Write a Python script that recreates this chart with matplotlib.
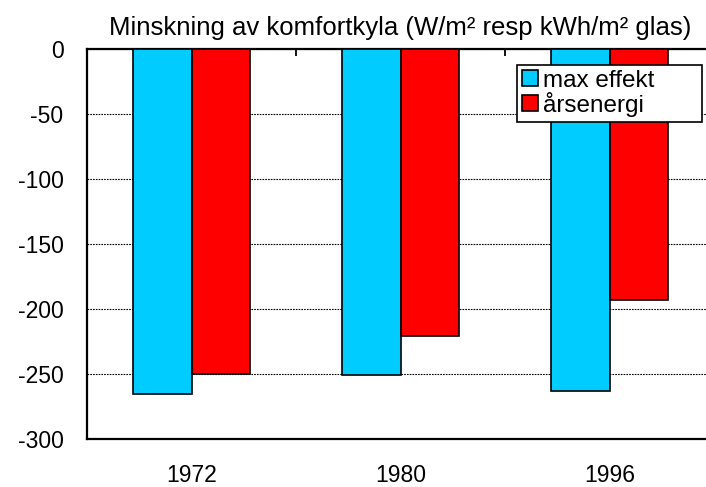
import numpy as np
import matplotlib.pyplot as plt

plt.rcParams['font.family'] = ['Liberation Sans', 'DejaVu Sans']
plt.rcParams['axes.unicode_minus'] = False

years = ['1972', '1980', '1996']
max_effekt = [-265, -251, -263]
arsenergi = [-250, -221, -193]

fig = plt.figure(figsize=(7.06, 4.87), dpi=100)
# the axes runs slightly past the right edge, as in the original
ax = fig.add_axes([87 / 706, 1 - 439 / 487, 627 / 706, 390 / 487])

x = np.arange(len(years))
w = 0.28
ax.bar(x, max_effekt, width=-w, align='edge', color='#00CCFF',
       edgecolor='black', linewidth=1.2, label='max effekt', zorder=3)
ax.bar(x, arsenergi, width=w, align='edge', color='#FF0000',
       edgecolor='black', linewidth=1.2, label='årsenergi', zorder=3)

ax.set_xlim(-0.5, 2.5)
ax.set_ylim(-300, 0)
ax.set_yticks(np.arange(-300, 1, 50))
ax.yaxis.grid(True, color='black', linestyle=(0, (1.5, 1)), linewidth=0.8, zorder=1)

ax.set_xticks(x)
ax.set_xticklabels(years, fontsize=16.5)
ax.set_xticks([0.5, 1.5], minor=True)
ax.tick_params(axis='x', which='major', length=0, pad=18)
ax.tick_params(axis='x', which='minor', top=True, bottom=False,
               direction='in', length=5, width=1.3)
ax.tick_params(axis='y', labelsize=16.5, length=0, pad=17)

for s in ax.spines.values():
    s.set_linewidth(1.6)

ax.set_title('Minskning av komfortkyla (W/m² resp kWh/m² glas)',
             fontsize=18.5, pad=10)

leg = ax.legend(loc='upper left', bbox_to_anchor=(0.686, 0.5, 0.295, 0.459),
                mode='expand', fontsize=17.5, framealpha=1,
                frameon=True, fancybox=False, edgecolor='black',
                handlelength=0.65, handleheight=0.65, handletextpad=0.2,
                borderpad=0.2, labelspacing=0.0, borderaxespad=0)
leg.get_frame().set_linewidth(1.2)
leg.set_zorder(5)

fig.savefig('out.png', dpi=100)
